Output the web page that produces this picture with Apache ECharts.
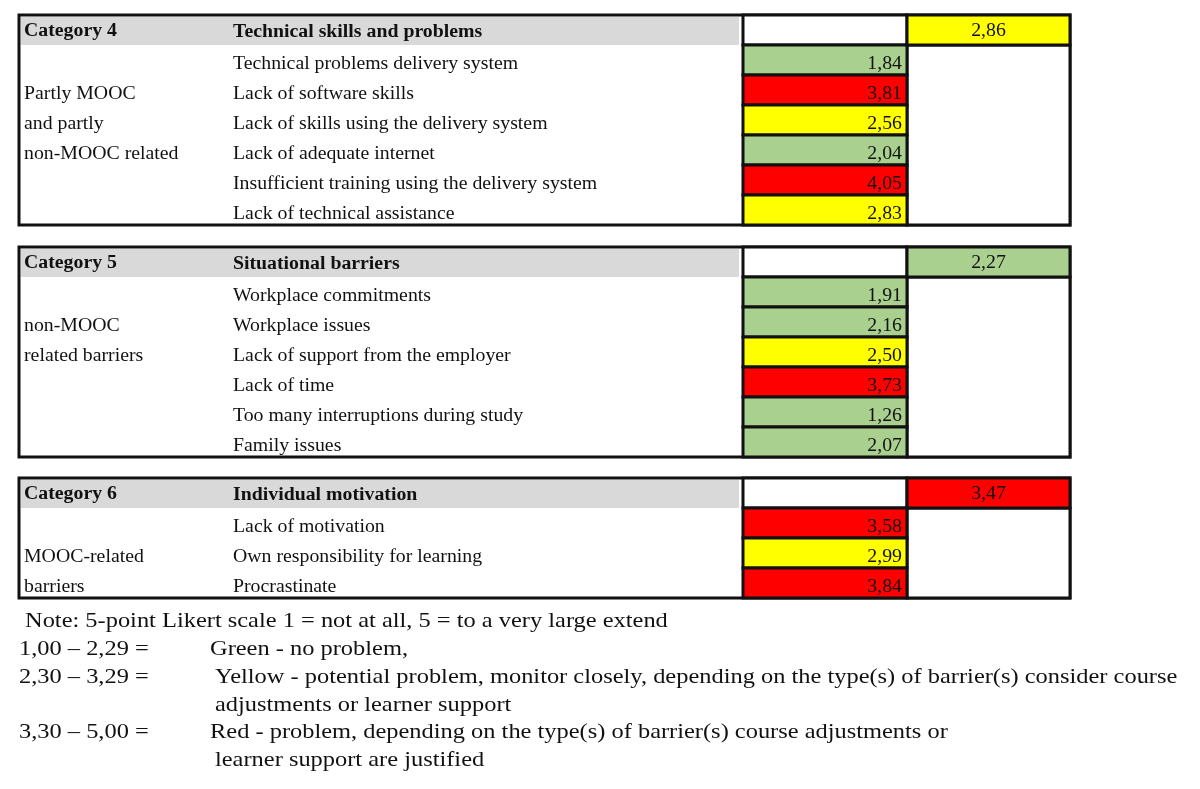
<!DOCTYPE html>
<html>
<head>
<meta charset="utf-8">
<script src="https://cdn.jsdelivr.net/npm/echarts@6/dist/echarts.min.js"></script>
<style>
  html, body { margin: 0; padding: 0; background: #fff; }
  #main { width: 1200px; height: 789px; }
</style>
</head>
<body>
<div id="main"></div>
<script>
// 表格数据
var categories = ['Category 4', 'Category 5', 'Category 6'];
var titles = ['Technical skills and problems', 'Situational barriers', 'Individual motivation'];
var groupNotes = [
  ['Partly MOOC', 'and partly', 'non-MOOC related'],
  ['non-MOOC', 'related barriers'],
  ['MOOC-related', 'barriers']
];
var items4 = ['Technical problems delivery system', 'Lack of software skills', 'Lack of skills using the delivery system',
  'Lack of adequate internet', 'Insufficient training using the delivery system', 'Lack of technical assistance'];
var values4 = [1.84, 3.81, 2.56, 2.04, 4.05, 2.83];
var items5 = ['Workplace commitments', 'Workplace issues', 'Lack of support from the employer',
  'Lack of time', 'Too many interruptions during study', 'Family issues'];
var values5 = [1.91, 2.16, 2.50, 3.73, 1.26, 2.07];
var items6 = ['Lack of motivation', 'Own responsibility for learning', 'Procrastinate'];
var values6 = [3.58, 2.99, 3.84];
var means = [2.86, 2.27, 3.47];
var noteTitle = 'Note: 5-point Likert scale 1 = not at all, 5 = to a very large extend';
var rangeLabels = ['1,00 – 2,29 =', '2,30 – 3,29 =', '3,30 – 5,00 ='];
var rangeTexts = [
  ['Green - no problem,'],
  ['Yellow - potential problem, monitor closely, depending on the type(s) of barrier(s) consider course', 'adjustments or learner support'],
  ['Red - problem, depending on the type(s) of barrier(s) course adjustments or', 'learner support are justified']
];

// 布局
var tableTops = [15, 247, 478];
var rowH = 30;
var X = { left: 19, note: 24, desc: 233, grayRight: 739, val0: 743, val1: 907, right: 1070 };
var FONT = '18px "Liberation Serif", "Times New Roman", serif';
var FONT_B = 'bold 18px "Liberation Serif", "Times New Roman", serif';
var NOTE_FONT = '22px "Liberation Serif", "Times New Roman", serif';
var SX = 1.1;       // 原图文字横向拉伸
var NOTE_SX = 1.11;

var itemLists = [items4, items5, items6];
var valueLists = [values4, values5, values6];

var frameData = categories.map(function (c, t) { return [t, itemLists[t].length]; });
var cellData = [];
valueLists.forEach(function (vals, t) {
  vals.forEach(function (v, r) {
    cellData.push({ name: itemLists[t][r], value: [t, r, v] });
  });
});
var meanData = means.map(function (m, t) { return [t, -1, m]; });

function fmt(v) { return v.toFixed(2).replace('.', ','); }

function pt(api, x, y) { return api.coord([x, y]); }

function rectShape(api, x0, y0, x1, y1) {
  var a = pt(api, x0, y0), b = pt(api, x1, y1);
  return { x: a[0], y: a[1], width: b[0] - a[0], height: b[1] - a[1] };
}

function txt(api, x, y, s, font, align) {
  var p = pt(api, x, y);
  return {
    type: 'text', x: p[0], y: p[1], scaleX: SX,
    style: { x: 0, y: 0, text: s, font: font, fill: '#111', textAlign: align || 'left', textVerticalAlign: 'middle' }
  };
}

// 表格框架
function renderFrame(params, api) {
  var t = api.value(0), n = api.value(1);
  var top = tableTops[t], bottom = top + rowH * (n + 1);
  var children = [
    { type: 'rect', shape: rectShape(api, X.left, top, X.right, bottom), style: { fill: '#fff', stroke: '#111', lineWidth: 3 } },
    { type: 'rect', shape: rectShape(api, X.left + 2, top + 2, X.grayRight, top + rowH), style: { fill: '#d9d9d9' } },
    { type: 'rect', shape: rectShape(api, X.val0, top, X.val1, top + rowH), style: { fill: '#fff', stroke: '#111', lineWidth: 3 } },
    { type: 'rect', shape: rectShape(api, X.val1, top + rowH, X.right, bottom), style: { fill: '#fff', stroke: '#111', lineWidth: 3 } },
    txt(api, X.note, top + rowH / 2 + 1.5, categories[t], FONT_B),
    txt(api, X.desc, top + rowH / 2 + 2, titles[t], FONT_B)
  ];
  groupNotes[t].forEach(function (s, i) {
    children.push(txt(api, X.note, top + rowH * (i + 2) + rowH / 2 + 4, s, FONT));
  });
  return { type: 'group', children: children };
}

// 每项得分
function renderCell(params, api) {
  var t = api.value(0), r = api.value(1), v = api.value(2);
  var y0 = tableTops[t] + rowH * (r + 1), y1 = y0 + rowH;
  var name = cellData[params.dataIndex].name;
  return {
    type: 'group',
    children: [
      { type: 'rect', shape: rectShape(api, X.val0, y0, X.val1, y1), style: { fill: api.visual('color'), stroke: '#111', lineWidth: 3 } },
      txt(api, X.val1 - 5, y0 + rowH / 2 + 4, fmt(v), FONT, 'right'),
      txt(api, X.desc, y0 + rowH / 2 + 4, name, FONT)
    ]
  };
}

// 类别均值
function renderMean(params, api) {
  var t = api.value(0), v = api.value(2);
  var y0 = tableTops[t], y1 = y0 + rowH;
  return {
    type: 'group',
    children: [
      { type: 'rect', shape: rectShape(api, X.val1, y0, X.right, y1), style: { fill: api.visual('color'), stroke: '#111', lineWidth: 3 } },
      txt(api, (X.val1 + X.right) / 2, y0 + rowH / 2 + 1, fmt(v), FONT, 'center')
    ]
  };
}

// 说明文字
var noteY = [647, 675, 730];
var lineGap = 28;
function noteText(x, y, s) {
  return { type: 'text', x: x, y: y + 2.5, scaleX: NOTE_SX, style: { x: 0, y: 0, text: s, font: NOTE_FONT, fill: '#111', textVerticalAlign: 'middle' } };
}
var noteGraphics = [noteText(25, 619, noteTitle)];
rangeLabels.forEach(function (lab, i) {
  noteGraphics.push(noteText(19, noteY[i], lab));
  rangeTexts[i].forEach(function (s, j) {
    noteGraphics.push(noteText((i === 1 || j > 0) ? 215 : 210, noteY[i] + j * lineGap, s));
  });
});

var chart = echarts.init(document.getElementById('main'));
var option = {
  animation: false,
  grid: { left: 0, right: 0, top: 0, bottom: 0 },
  xAxis: { type: 'value', min: 0, max: 1200, show: false },
  yAxis: { type: 'value', min: 0, max: 789, inverse: true, show: false },
  visualMap: {
    show: false,
    seriesIndex: [1, 2],
    dimension: 2,
    pieces: [
      { gte: 1, lt: 2.30, color: '#a9d08e' },
      { gte: 2.30, lt: 3.30, color: '#ffff00' },
      { gte: 3.30, lte: 5, color: '#ff0000' }
    ]
  },
  graphic: noteGraphics,
  series: [
    { type: 'custom', renderItem: renderFrame, data: frameData, silent: true },
    { type: 'custom', renderItem: renderCell, data: cellData, silent: true },
    { type: 'custom', renderItem: renderMean, data: meanData, silent: true }
  ]
};
chart.setOption(option);
</script>
</body>
</html>
